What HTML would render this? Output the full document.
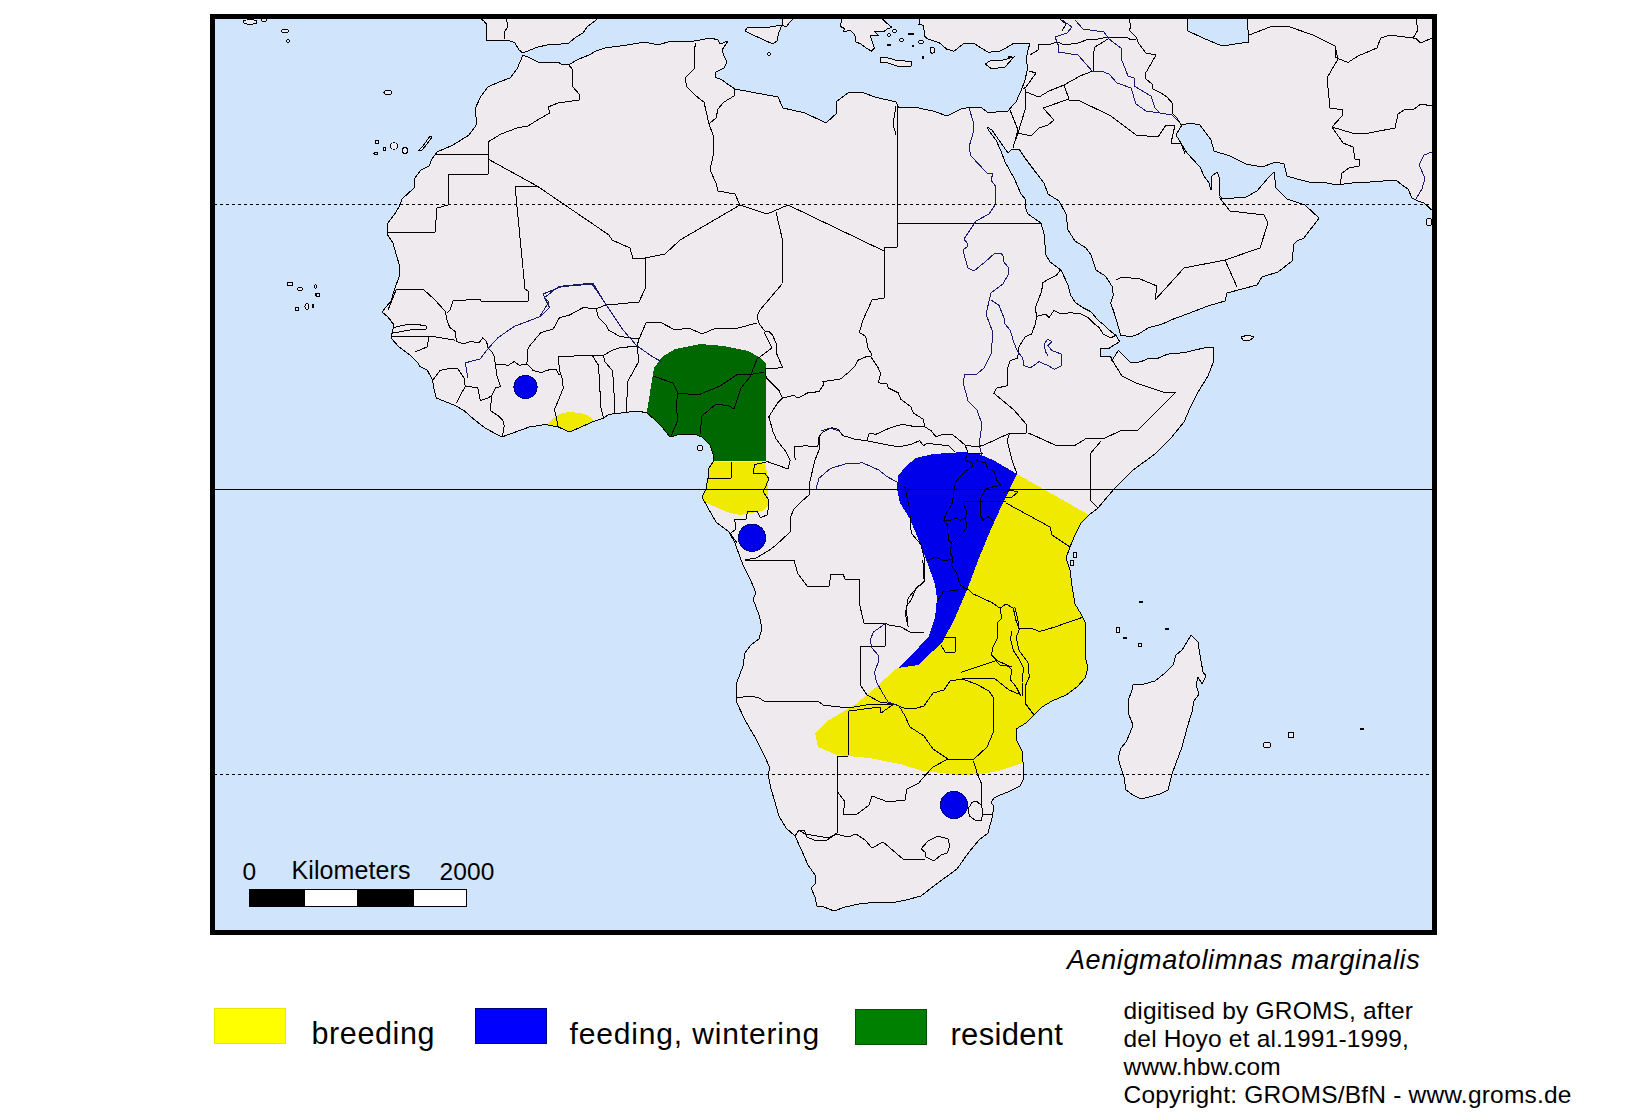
<!DOCTYPE html>
<html><head><meta charset="utf-8"><style>
html,body{margin:0;padding:0;background:#fff;width:1644px;height:1114px;overflow:hidden}
svg{display:block}
text{font-family:"Liberation Sans",sans-serif}
</style></head><body>
<svg width="1644" height="1114" viewBox="0 0 1644 1114"><g shape-rendering="crispEdges">
<rect x="215" y="19" width="1217" height="911" fill="#eeeaee"/>
<path d="M647 411 L654 368 L662 357 L675 349 L700 344 L724 346 L748 351 L759 357 L766 363 L766 461 L700 461 L640 440 Z" fill="#006800" stroke="none" stroke-width="1" />
<path d="M700 462 L765 462 L768 478 L768 505 L762 511 L740 515 L727 512 L700 500 Z" fill="#f0ea00" stroke="none" stroke-width="1" />
<path d="M546 440 L548 424 L554 417 L562 413 L570 412 L580 413 L587 415 L593 419 L598 440 Z" fill="#f0ea00" stroke="none" stroke-width="1" />
<path d="M1017 474 L1089 515 L1120 515 L1120 700 L1040 775 L1022 763 L1002 770 L983 774 L959 775 L923 771 L900 764 L869 758 L837 755 L818 747 L815 733 L829 720 L856 704 L875 688 L896 669 L898 668 L918 665 L933 651 L943 641 L955 618 L967 590 L979 558 L991 529 L1002 505 Z" fill="#f0ea00" stroke="none" stroke-width="1" />
<path d="M897 489 L898 476 L906 466 L916 458 L933 454 L963 452 L979 454 L993 460 L1017 474 L1002 505 L991 529 L979 558 L967 590 L955 618 L943 641 L933 651 L918 665 L898 668 L906 660 L919 647 L929 636 L935 618 L937 598 L935 584 L927 562 L919 541 L910 519 L900 503 Z" fill="#0000ea" stroke="none" stroke-width="1" />
<g fill="none" stroke="#000" stroke-width="1" stroke-linejoin="round">
<path d="M436 154 L488 154 L488 174 L448 174 L448 205 L437 208 L435 232 L388 232"/>
<path d="M488 142 L488 159"/>
<path d="M488 159 L537 186 L609 235 L612 240 L630 248 L633 259 L645 258 L665 254 L680 240 L740 205"/>
<path d="M537 186 L515 186 L525 289 L528 291 L528 301 L481 301 L480 299 L453 301 L450 310 L447 313"/>
<path d="M488 142 L501 134 L517 128 L528 126 L539 119 L550 113 L548 107 L558 103 L579 100 L579 94 L573 87 L572 69 L569 65"/>
<path d="M506 17 L508 27 L504 32 L504 39"/>
<path d="M696 43 L694 50 L694 69 L685 78 L687 87 L696 96 L704 102 L709 124"/>
<path d="M734 88 L734 96 L724 102 L718 109 L716 118 L709 124 L713 135 L713 156 L710 170 L716 183 L718 191 L735 194 L740 205 L767 214 L788 205 L884 251 L884 248 L897 247 L897 106"/>
<path d="M896 106 L893 124 L896 135"/>
<path d="M897 223 L1041 223"/>
<path d="M645 258 L645 289 L639 302 L620 303.8 L606 305 L596 308.8 L583.4 307.5 L569.6 315 L559.5 317.6 L553.3 328.9 L540.7 332.7 L528.1 347.8 L526.9 364"/>
<path d="M388 310 L396 290 L415 289 L423 289 L434 299 L445 311 L447.7 322.6 L450 327.7 L455 331.4 L456.5 341.5 L464 344 L470 341.5 L479 342.7 L482.9 337.7 L486.6 341.5 L487.9 347.8 L491.7 351.5 L494.2 356.6 L495.4 364 L500.5 364 L508 365.4 L514.3 361.6 L519.3 365.4 L526.9 364 L533.1 370.4 L542 372.9 L545.7 370.4 L555.8 369 L559.5 375.4"/>
<path d="M391 336 L420 336.5 L436.3 337 L455.2 340.2"/>
<path d="M432.6 380.5 L440 370.4 L449 368.5 L457.7 368.5 L464 378 L465.3 386.7 L461.5 393 L456.5 403"/>
<path d="M465.3 386.7 L470.3 386.7 L477.8 388 L480.3 400.6 L487.9 398 L491.7 395.5 L495.4 388 L500.5 386.7 L496.7 375.4 L495.4 364"/>
<path d="M491.7 395.5 L490.4 410.6 L498 415.7 L503 420.7 L504.2 425.7 L502.3 437"/>
<path d="M558.3 356.6 L559.5 370.4 L562 378 L563.3 388 L558.3 400.6 L554.5 409.4 L557 420.7 L558.3 427"/>
<path d="M558.3 356.6 L592.2 355.3 L603.5 355.3 L612.3 350.3 L620 347.8 L637 346"/>
<path d="M596 308.8 L598.5 317.6 L606 325 L608.5 330 L620 336.5 L639 339"/>
<path d="M592.2 355.3 L598.5 365.4 L599.8 388 L601 408.1 L603.5 418.2"/>
<path d="M603.5 355.3 L604.8 361.6 L612.3 370.4 L613.6 383 L614.8 413.1"/>
<path d="M776 212 L783 242 L782 284 L760 310 L757 316 L759 323 L760 325"/>
<path d="M760 325 L765 331.3 L768.8 331.3 L772.6 335 L776.3 343.9 L776.3 352.7 L780 361.5 L782.6 367.7 L765 369 L766.3 377.8 L772.6 384.1 L778.9 390.4 L782.6 398"/>
<path d="M782.6 398 L794 395.4 L797.7 398 L807.8 392.9 L819 391.6 L824.1 384 L822.9 381.6 L840.5 379 L848 372.8 L855.5 365.3 L858 360.2 L866.8 356.5 L870.6 356.5"/>
<path d="M863 320 L859.3 332.6 L865.6 336.3 L868.1 348.9 L871.9 353.9 L870.6 356.5 L878.2 367.7 L880.7 374 L878.2 382.8 L887 384 L888.2 387.9 L898.3 392.9 L900.8 399.2 L910.8 406.7 L913.4 413 L923.4 419.3 L924.7 426.8"/>
<path d="M866.8 440.7 L884.5 444.4 L899.3 446.9 L910.8 444.4 L919.6 440.7 L923.4 445.7 L927.2 443.2 L936 444.4 L948.6 445.7 L954.8 452"/>
<path d="M782.6 398 L777.6 403 L768.8 416.8 L770 420.6 L772.6 430.6 L776.3 439.4 L785.1 450.7 L790.2 460"/>
<path d="M639 339 L637 346 L639 361 L628 381 L626 413"/>
<path d="M639 339 L646 323 L660 322 L675 330 L689 328 L702 334 L716 328 L738 328 L757 323"/>
<path d="M790.2 460 L788 469 L767.6 461.7 L754.7 464.5 L753.2 473.1 L764.7 473.1 L769 478.9 L763.3 491.8 L769 500.4 L767.6 514.8 L760.4 517.7 L757.6 511.9 L747.5 511.9 L746 519.1 L734.6 519.1 L736 529.2 L730.3 533.5 L737.4 543.5"/>
<path d="M884 251 L884 298 L872 300 L863 320"/>
<path d="M429 337 L427 347 L415 352"/>
<path d="M391 328 L405 325 L415 324 L426 326 L426 329 L410 330 L399 332 L391 333"/>
<path d="M653 376 L673 383 L678 393 L676 406 L678 420 L671 436"/>
<path d="M678 393 L698 395 L720 386 L738 374 L748 375 L764 372"/>
<path d="M700 434 L702 416 L716 404 L729 406 L734 409 L741 388 L750 377 L757 359 L772 348 L764 332"/>
<path d="M731 462 L731 478 L708 478"/>
<path d="M795.2 460 L794 447 L805.3 445.7 L817.8 447 L819 436.9 L822.9 431.9 L831.7 427.5 L838 429.4 L843 435.6 L855.5 439.4 L866.8 440.7 L869.4 433.1 L875.7 434.4 L889.5 428.1 L902 424.3 L915.9 426.8 L924.7 426.8 L931 430.6 L936 436.9 L942.3 434.4 L952.3 434.4 L960 440.7 L965 445 L977 447 L984 445 L1010 433 L1026 433 L1026 424 L1014 410 L993.8 393.2 L996.3 388.2 L1007.7 385.6 L1007.7 368 L1010.2 360.5 L1017.7 358 L1019 346.7 L1025.3 336.6 L1031.5 334.1 L1035.3 324 L1036.6 316.5 L1035.3 307.7 L1041.6 291.4 L1042.9 282.6 L1049.1 278.8 L1056.7 275 L1060.4 270"/>
<path d="M1036.6 316.5 L1045.4 314 L1049 317.7 L1054 310.2 L1060.4 314 L1070.5 312.7 L1080.6 314 L1088.1 317.7 L1093.1 322.8 L1099.4 327.8 L1103.2 334.1 L1110.7 337.9 L1115.8 335.4"/>
<path d="M1010 433 L1007 440 L1012 460 L1017 474"/>
<path d="M1028 433 L1033 435 L1055 445 L1074 446 L1087 438 L1103 439 L1122 430 L1138 430 L1176 392 L1163 392 L1136 383 L1122 376 L1112 360"/>
<path d="M1101 441 L1090 454 L1090 500 L1098 508"/>
<path d="M1006 503 L1050 527 L1052 535 L1070 547"/>
<path d="M819 436 L819 450 L815 460 L810 481 L809 495 L801 502 L794 509 L790 518 L790 532 L775 546 L768 551 L756 558 L745 560"/>
<path d="M745 560 L794 560 L798 574 L808 587 L829 586 L831 574 L843 574 L845 579 L859 579 L859 602 L864 623 L885 623 L889 625 L901 627 L910 632 L924 632"/>
<path d="M885 623 L885 646 L860 646 L861 686"/>
<path d="M904.7 486.3 L909.6 508.9 L911.2 533.1 L920.9 544.4 L924.1 557.4 L924.1 581.6 L916 588 L911.2 600 L906 607 L908 625"/>
<path d="M965 445 L968 452.5 L965 460 L971.7 462.6 L973 466 L965.4 471.4 L960.4 476.4 L955.4 482.7 L954 490 L952.8 500.3 L951.6 505.3 L947.8 510.4 L945.3 515.4 L944 520.4 L947.8 525.4 L947.8 533 L949 540.5 L951.6 543 L950.3 553 L952.8 558 L951.6 565.6 L956.6 573 L960.4 585 L968 590"/>
<path d="M978 455 L976.7 461 L985.5 462.6 L988 469 L994.3 471.4 L996.8 480.2 L1000.6 485.2 L994.3 486.5 L985.5 489 L980.5 499 L980.5 515.4 L983 520.4 L988 516.6 L993 520.4"/>
<path d="M963 501 L1006 501"/>
<path d="M963 502.8 L966.7 511.6 L965.4 518 L960.4 520.4 L956.6 518 L950.3 520.4 L944 520.4"/>
<path d="M965.4 518 L966.7 526.7 L963 533 L957.9 538 L952.8 543"/>
<path d="M927.7 560.6 L935 556.9 L944 560.6 L951.6 559.4"/>
<path d="M1003 493 L1010 490 L1018 492 L1012 497 L1005 498"/>
<path d="M937.4 600.9 L943.2 592 L962.2 589.2 L968 587.7"/>
<path d="M922.8 560 L924.2 581.9 L915.5 589.2 L908.2 598 L905.3 614 L908.2 627.2"/>
<path d="M964 453 L983 453"/>
<path d="M968 589.2 L972.4 593.6 L991.4 602.3 L1000.1 608.2 L1006 603.8 L1013.3 608.2 L1016.2 621.3 L1019.1 628.6 L1032.3 628.6 L1039.6 631.5 L1054.2 627.2 L1083.4 617"/>
<path d="M1000.1 608.2 L1001.6 618.4 L997.2 622.8 L997.2 638.8 L992.8 647.6 L991.4 654.9 L997.2 660.7 L1007.4 665.1 L1011.8 669.5 L1010.4 679.7 L1016.2 687 L1020.6 695.8"/>
<path d="M1011.8 631.5 L1010.4 638.8 L1013.3 650.5 L1019.1 659.3 L1023.5 668 L1022 682.6 L1022 695.8"/>
<path d="M1014.7 606.7 L1017.7 618.4 L1019.1 630 L1016.2 637.4 L1019.1 650.5 L1027.9 662.2 L1029.3 676.8 L1025 687 L1025 703 L1034 715"/>
<path d="M960.7 672.4 L995.8 660.7 L1000.1 665.1 L1011.8 666.6"/>
<path d="M941 637 L955 637 L955 652 L945 652 L941 645"/>
<path d="M736 698 L751 696 L759 698 L764 701 L818 701 L823 705 L848 708 L872 704 L894 704"/>
<path d="M861 686 L867 695 L880 702 L894 704 L906 709 L917 708 L924 706 L933 693 L944 690 L950 681 L962 679 L994 678 L1009 690 L1021 695"/>
<path d="M849 711 L880 707 L881 713 L894 704"/>
<path d="M849 711 L848 756 L837 756 L837 833"/>
<path d="M837 833 L829 838 L805 834 L799 830 L795 836"/>
<path d="M837 791 L845 802 L843 814 L856 815 L869 805 L872 796 L888 802 L905 800 L907 789 L919 783 L921 780 L933 767 L948 759"/>
<path d="M899 706 L905 716 L910 727 L924 736 L933 749 L948 759 L973 760"/>
<path d="M973 760 L987 747 L993 733 L993 697 L989 691 L976 684 L962 679"/>
<path d="M973.4 760.7 L977.5 774.2 L981.5 783.6 L981.5 803.8 L982.8 814.6 L992.3 814.6"/>
<path d="M795 836 L799 830 L804 830 L807 837 L814 840 L827 840 L836 834 L848 837 L856 834 L865 840 L872 848 L883 842 L903 859 L909 860 L925 859"/>
<path d="M921 849 L928 841 L938 836 L948 839 L950 846 L947 853 L941 855 L934 861 L926 857 L925 852 L921 849"/>
<path d="M968 809 L972 802.4 L976.2 801.1 L981.5 805.2 L982.8 811.9 L981.5 820 L974.8 820 L969.3 816 L968 809"/>
<path d="M1030 55 L1038 50 L1039 44 L1051 44 L1057 42 L1065 45 L1078 43 L1089 39 L1098 39 L1108 37 L1113 37 L1128 38 L1131 40 L1136 39"/>
<path d="M1108 39 L1095 47 L1093 55 L1093 71 L1080 76 L1064 85 L1049 91 L1039 97 L1026 92"/>
<path d="M1064 85 L1069 99 L1043 108 L1054 120 L1048 125 L1039 128 L1031 136 L1018 133 L1013 147"/>
<path d="M1069 100 L1080 101 L1111 116 L1136 135 L1158 137 L1166 125 L1175 125 L1171 143 L1181 143 L1185 154"/>
<path d="M1129 19 L1131 27 L1129 30 L1136 37 L1139 44 L1146 53 L1156 55 L1152 62 L1148 69 L1145 74 L1146 79 L1152 84 L1153 89 L1161 93 L1167 97 L1173 104 L1172 113 L1177 118 L1181 125"/>
<path d="M1029 71 L1036 73 L1026 87 L1023 89"/>
<path d="M1025 89 L1025 110 L1018 133"/>
<path d="M1010 110 L1018 130 L1013 148"/>
<path d="M1155 300 L1184 268 L1225 260 L1260 248 L1268 223 L1264 215 L1230 211 L1219 197"/>
<path d="M1225 260 L1237 287"/>
<path d="M1116 280 L1122 277 L1140 279 L1157 286 L1155 300"/>
<path d="M1249 35 L1270 27 L1287 26 L1313 35 L1335 46 L1338 59 L1327 78 L1330 108 L1343 110 L1342 116 L1332 127 L1343 143 L1353 147 L1355 159 L1360 160 L1359 166 L1349 168 L1342 173 L1340 185"/>
<path d="M1332 127 L1352 133 L1369 133 L1395 128 L1398 114 L1404 110 L1414 109 L1421 104 L1432 106"/>
<path d="M1335 46 L1336 57.7 L1348 62.5 L1358 56 L1377 48 L1380.5 38.3 L1390 35 L1401.4 36.6 L1415.9 38.3 L1420.7 43 L1432 38"/>
<path d="M1416 19 L1418 30 L1413 38"/>
<path d="M1060 19 L1066 24 L1062 31"/>
</g>
<g fill="none" stroke="#1a1a6a" stroke-width="1" stroke-linejoin="round">
<path d="M969 108 L973 121 L974 130 L969 147 L971 156 L987 173 L993 173 L991 180 L996 187 L995 205 L989 214 L976 221 L964 239 L967 243 L967 247 L963 250 L965 258 L968 268 L974 271 L985 262 L995 253 L1001 253 L1003 256 L1003 261 L1008 267 L1008 275 L1003 284 L991 293 L986 314 L993 333 L991 354 L984 368 L977 374 L965 374 L963 382 L968 401 L977 410 L982 424 L979 445 L982 455"/>
<path d="M991.3 300.2 L998.9 305.2 L1003.9 317.7 L1005.1 324 L1010.2 330.3 L1014 342.9 L1017.7 351.7 L1022.7 358 L1024 365.5 L1030.3 368 L1039 361.7 L1047.9 365.5 L1054.2 369.3 L1061.7 365.5 L1061.7 354.2 L1051.7 350.4 L1047.9 345.4 L1051.7 341.6 L1047.9 339.1 L1044.1 344.1 L1045.4 351.7 L1047.9 355.5"/>
<path d="M540 316 L549 302 L544 298 L558 287 L592 284 L605 303 L623 330 L637 346 L653 357 L662 362"/>
<path d="M467.8 378 L466.5 370 L465.3 362.8 L480.3 359 L486.6 350.3 L498 337.7 L514.3 326.4 L524.3 322.6 L540.7 316.3 L549.5 307.5 L545.7 300 L543 294 L563 286 L593 283 L606 305"/>
<path d="M821 431 L830 428 L839 431"/>
<path d="M815.9 489.5 L819 478.2 L830.4 468.5 L845 464 L862.7 462.8 L878.9 470.1 L887 476.6 L904.7 486.3"/>
<path d="M886 623 L873.6 632 L870 640 L872 648 L878 655 L878 663 L874.5 672 L876.5 682 L882 692 L888 702 L899 706"/>
<path d="M1062 20 L1072 27 L1067 33 L1055 37 L1057 42 L1059 47 L1058 52 L1078 55 L1093 72 L1101 71 L1109 74 L1117 83 L1131 88 L1136 104 L1146 111 L1160 113 L1172 115 L1182 125"/>
<path d="M1075 20 L1083 29 L1104 32 L1109 39 L1121 48 L1121 58 L1128 76 L1134 78 L1134 86 L1151 96 L1155 108 L1160 113"/>
<path d="M1432 152 L1424 155 L1419 165 L1425 178 L1422 189 L1416 199"/>
</g>
<path d="M213 17 L478 17 L484 21 L487 25 L486 32 L486 40 L497 41 L508 40 L515 43 L519 50 L523 53 L530 50 L538 47 L547 45 L561 44 L569 43 L576 37 L583 33 L587 27 L596 20 L598 17 L783 17 L782 25 L786 27 L790 22 L795 17 L842.4 17 L840.3 26.4 L844.5 28.5 L843.4 31.6 L850.7 30.5 L854.8 34.7 L855.9 41.9 L861 44 L866.2 48.1 L871.4 51.2 L874.5 48.1 L872.4 41.9 L870.3 35.7 L878.6 35.7 L874.5 31.6 L883.8 31.6 L887.9 28.5 L892 27.4 L885.8 22.3 L880.7 17 L918.9 17 L920 22.3 L918.9 24.3 L923.1 25.4 L924.1 30.5 L924.1 35.7 L927.2 38.8 L933.4 40.9 L939.6 43 L946.9 49.2 L954 51.2 L964.4 43 L974.8 44 L988.2 52.3 L1000 51.2 L1006 48 L1014 43 L1030 43 L1028 50 L1026 60 L1028 67 L1025 80 L1021 91 L1019 95 L1016 102 L1014 104 L1008 111 L996 112 L987 112 L982 108 L971 107 L961 109 L947 116 L933 111 L923 109 L915 107 L899 108 L896 102 L875 97 L861 92 L848 93 L836 102 L837 113 L826 123 L805 113 L783 108 L778 97 L751 92 L735 89 L729 85 L722 80 L715 77 L716 72 L724 68 L727 62 L724 56 L722 50 L728 41 L720 44 L718 40 L711 38 L700 40 L689 42 L671 41 L658 45 L645 42 L627 45 L605 48 L596 51 L589 55 L579 59 L570 64 L561 64 L558 62 L548 63 L538 62 L530 58 L523 55 L517 69 L510 78 L499 82 L488 87 L481 96 L475 109 L477 124 L469 135 L453 145 L437 152 L432 159 L429 166 L421 170 L415 178 L414 188 L402 199 L399 207 L394 215 L388 223 L387 234 L393 243 L396 254 L400 267 L399 277 L394 291 L391 301 L382 312 L388 317 L394 325 L391 338 L399 347 L410 355 L418 363 L420 366.6 L427.5 370.4 L432.6 380.5 L433.8 388 L436.3 398 L455.2 405.6 L464 410.6 L474 419.4 L485.4 428.2 L501.7 437 L515.5 432 L529.4 427 L545.7 424.5 L558.3 427 L569.6 432 L581 427 L592.2 422 L603.5 418.2 L608.5 414.4 L620 413.1 L638 411 L647 413 L654 419 L662 427 L670 437 L681 434 L694 434 L702 437 L710 445 L713 454 L713 462 L709 468 L708 478 L706 489 L702 497 L708 508 L716 522 L729 532 L735 543 L740 557 L743 565 L751 581 L756 593 L753 599 L759 615 L762 628 L759 639 L751 645 L745 653 L743 666 L737 682 L736 701 L745 720 L756 739 L764 755 L770 768 L768 774 L771 789 L775 802 L779 816 L786 828 L795 836 L801 849 L808 865 L815 875 L815 884 L811 888 L815 897 L817 906 L824 907 L834 911 L845 907 L859 904 L877 902 L891 903 L906 900 L921 896 L935 885 L957 869 L969 852 L979 840 L988 833 L992 818 L994 806 L991 803 L994 798 L1000 795 L1008 792 L1020 786 L1024 778 L1023 762 L1022 751 L1016 739 L1016 729 L1026 723 L1034 715 L1042 707 L1052 701 L1066 695 L1077 687 L1085 678 L1088 668 L1086 660 L1085 640 L1085 622 L1081 614 L1075 604 L1072 586 L1070 570 L1066 558 L1070 547 L1075 535 L1081 523 L1089 515 L1098 508 L1114 489 L1133 470 L1155 454 L1171 438 L1184 422 L1190 408 L1198 392 L1208 376 L1213 363 L1214 347 L1208 347 L1187 352 L1180 353 L1167.3 354.2 L1158.5 358 L1149.7 358 L1140.9 361.7 L1130.8 363 L1118.3 350.4 L1112 360.5 L1110.7 356.7 L1100.7 356.7 L1100.7 348 L1109.5 348 L1119.6 341.6 L1115.8 335.3 L1109.5 330.3 L1104.5 325.3 L1098.2 320.3 L1090.6 311.5 L1083 307.7 L1075.5 302.7 L1070.5 295 L1068 285 L1061 270 L1050 262 L1046 255 L1044 234 L1041 223 L1028 214 L1025 207 L1026 200 L1021 194 L1014 178 L1005 162 L1001 151 L996 140 L989 131 L987 127 L992 130 L1001 143 L1008 153 L1012 149 L1019 149 L1025 158 L1037 174 L1044 183 L1048 194 L1059 201 L1066 214 L1068 230 L1075 241 L1086 248 L1091 255 L1096 270 L1105.7 276.3 L1112 286.3 L1113.3 295.1 L1110.7 302.7 L1114.5 314 L1118.3 326.6 L1120.8 335.4 L1130.8 336.6 L1138.4 334.1 L1148.5 327.8 L1162.3 324 L1173.6 319 L1187 314 L1208 306 L1225 301 L1227 293 L1257 285 L1262 277 L1278 272 L1292 261 L1294 244 L1297 241 L1304 238 L1309 231 L1314 225 L1319 218 L1305 205 L1287 199 L1276 188 L1274 172 L1268 178 L1257 191 L1246 197 L1222 199 L1219 194 L1220 179 L1217 172 L1212 176 L1211 190 L1209 183 L1204 176 L1200 167 L1187 153 L1176 135 L1182 125 L1190 123 L1200 125 L1211 140 L1214 151 L1230 156 L1246 164 L1262 167 L1276 162 L1284 164 L1287 176 L1297 179 L1309 182 L1327 183 L1337 185 L1352 183 L1370 182 L1396 180 L1402 185 L1408 189 L1412 198 L1418 201 L1424 203 L1434 212 L1434 932 L213 932 L213 17 Z" fill="#d0e5fc" stroke="#000" stroke-width="1" stroke-linejoin="round"/>
<path d="M1187 17 L1188 31 L1203 38 L1222 46 L1249 42 L1247 17 Z" fill="#d0e5fc" stroke="#000" stroke-width="1" />
<path d="M745 31 L747 28 L755 27 L764 28 L776 26 L782 25 L779 32 L777 41 L773 44 L764 40 L751 34 Z" fill="#eeeaee" stroke="#000" stroke-width="1" />
<path d="M880 58 L885 57 L895 60 L905 61 L912 62 L911 66 L897 66 L888 63 L880 62 Z" fill="#eeeaee" stroke="#000" stroke-width="1" />
<path d="M985 64 L990 61 L1003 60 L1014 57 L1005 67 L992 69 Z" fill="#eeeaee" stroke="#000" stroke-width="1" />
<path d="M1191 635 L1198 642 L1200 655 L1203 672 L1206 676 L1202 684 L1198 677 L1196 685 L1199 694 L1194 701 L1192 712 L1187 728 L1182 747 L1176 763 L1172 774 L1168 790 L1160 794 L1149 797 L1141 799 L1133 795 L1126 790 L1124 777 L1121 768 L1118 758 L1121 748 L1126 742 L1130 733 L1133 725 L1129 715 L1128 701 L1132 690 L1133 685 L1144 684 L1155 681 L1165 673 L1173 665 L1176 655 L1182 650 L1187 642 Z" fill="#eeeaee" stroke="#000" stroke-width="1" />
<path d="M1241 337 L1248 335 L1254 337 L1249 341 L1243 340 Z" fill="#eeeaee" stroke="#000" stroke-width="1" />
<path d="M419 150 L423 146 L430 136 L432 137 L427 144 L422 150 Z" fill="#eeeaee" stroke="#000" stroke-width="1" />
<ellipse cx="250" cy="22" rx="7" ry="2.2" fill="#eeeaee" stroke="#000" stroke-width="1"/>
<ellipse cx="264" cy="20" rx="2.5" ry="1.5" fill="#eeeaee" stroke="#000" stroke-width="1"/>
<ellipse cx="285" cy="31" rx="4" ry="1.5" fill="#eeeaee" stroke="#000" stroke-width="1"/>
<ellipse cx="288" cy="41" rx="1.5" ry="1.2" fill="#eeeaee" stroke="#000" stroke-width="1"/>
<ellipse cx="388" cy="92.5" rx="4" ry="2" fill="#eeeaee" stroke="#000" stroke-width="1"/>
<ellipse cx="376" cy="153.5" rx="2" ry="1.2" fill="#eeeaee" stroke="#000" stroke-width="1"/>
<ellipse cx="377" cy="142" rx="1.5" ry="2" fill="#eeeaee" stroke="#000" stroke-width="1"/>
<ellipse cx="384.5" cy="149" rx="1.5" ry="1.5" fill="#eeeaee" stroke="#000" stroke-width="1"/>
<ellipse cx="394" cy="146" rx="4" ry="3.2" fill="#eeeaee" stroke="#000" stroke-width="1"/>
<ellipse cx="405" cy="150.5" rx="2.8" ry="2.8" fill="#eeeaee" stroke="#000" stroke-width="1"/>
<ellipse cx="290" cy="284" rx="3" ry="2" fill="#eeeaee" stroke="#000" stroke-width="1"/>
<ellipse cx="300" cy="289" rx="2.5" ry="1.5" fill="#eeeaee" stroke="#000" stroke-width="1"/>
<ellipse cx="315.5" cy="286.5" rx="1" ry="2" fill="#eeeaee" stroke="#000" stroke-width="1"/>
<ellipse cx="317.5" cy="294.5" rx="2" ry="1.5" fill="#eeeaee" stroke="#000" stroke-width="1"/>
<ellipse cx="297" cy="309" rx="2" ry="2" fill="#eeeaee" stroke="#000" stroke-width="1"/>
<ellipse cx="307" cy="306.5" rx="2" ry="3" fill="#eeeaee" stroke="#000" stroke-width="1"/>
<ellipse cx="313" cy="306" rx="1" ry="1.5" fill="#eeeaee" stroke="#000" stroke-width="1"/>
<ellipse cx="318" cy="295" rx="2" ry="1.5" fill="#eeeaee" stroke="#000" stroke-width="1"/>
<ellipse cx="700" cy="448" rx="2.5" ry="3" fill="#eeeaee" stroke="#000" stroke-width="1"/>
<ellipse cx="1075" cy="555" rx="1.5" ry="3" fill="#eeeaee" stroke="#000" stroke-width="1"/>
<ellipse cx="1072" cy="563" rx="2" ry="3" fill="#eeeaee" stroke="#000" stroke-width="1"/>
<ellipse cx="1141" cy="602" rx="1.5" ry="1" fill="#eeeaee" stroke="#000" stroke-width="1"/>
<ellipse cx="1118" cy="630" rx="2" ry="3" fill="#eeeaee" stroke="#000" stroke-width="1"/>
<ellipse cx="1125" cy="638" rx="2" ry="1" fill="#eeeaee" stroke="#000" stroke-width="1"/>
<ellipse cx="1140" cy="645" rx="1.5" ry="2" fill="#eeeaee" stroke="#000" stroke-width="1"/>
<ellipse cx="1167" cy="629" rx="1.5" ry="1" fill="#eeeaee" stroke="#000" stroke-width="1"/>
<ellipse cx="1267" cy="745" rx="3.5" ry="3" fill="#eeeaee" stroke="#000" stroke-width="1"/>
<ellipse cx="1291" cy="735" rx="3" ry="3" fill="#eeeaee" stroke="#000" stroke-width="1"/>
<ellipse cx="1362" cy="729" rx="1.5" ry="1" fill="#eeeaee" stroke="#000" stroke-width="1"/>
<ellipse cx="769" cy="54" rx="2" ry="1.2" fill="#eeeaee" stroke="#000" stroke-width="1"/>
<ellipse cx="889" cy="35" rx="1.2" ry="2" fill="#eeeaee" stroke="#000" stroke-width="1"/>
<ellipse cx="894.5" cy="31" rx="2" ry="1.5" fill="#eeeaee" stroke="#000" stroke-width="1"/>
<ellipse cx="901.4" cy="40" rx="1.8" ry="2" fill="#eeeaee" stroke="#000" stroke-width="1"/>
<ellipse cx="889" cy="45" rx="2" ry="0.8" fill="#eeeaee" stroke="#000" stroke-width="1"/>
<ellipse cx="912.7" cy="46" rx="0.8" ry="0.8" fill="#eeeaee" stroke="#000" stroke-width="1"/>
<ellipse cx="910.7" cy="34" rx="2.5" ry="1" fill="#eeeaee" stroke="#000" stroke-width="1"/>
<ellipse cx="921" cy="42" rx="2.5" ry="1.2" fill="#eeeaee" stroke="#000" stroke-width="1"/>
<ellipse cx="932.4" cy="50.2" rx="2.2" ry="3" fill="#eeeaee" stroke="#000" stroke-width="1"/>
<ellipse cx="923" cy="57.4" rx="1" ry="1.5" fill="#eeeaee" stroke="#000" stroke-width="1"/>
<ellipse cx="1010" cy="57" rx="2" ry="1" fill="#eeeaee" stroke="#000" stroke-width="1"/>
<ellipse cx="1429" cy="222" rx="2.5" ry="4" fill="#eeeaee" stroke="#000" stroke-width="1"/>
<circle cx="525.5" cy="387" r="11.6" fill="#0000ea" stroke="#00007a" stroke-width="1"/>
<circle cx="752" cy="537.7" r="13.6" fill="#0000ea" stroke="#00007a" stroke-width="1"/>
<circle cx="954" cy="805" r="13.6" fill="#0000ea" stroke="#00007a" stroke-width="1"/>
<line x1="214" y1="204.5" x2="1432" y2="204.5" stroke="#000" stroke-width="1" stroke-dasharray="3,3"/>
<line x1="214" y1="489.5" x2="1432" y2="489.5" stroke="#000" stroke-width="1"/>
<line x1="214" y1="774.5" x2="1432" y2="774.5" stroke="#000" stroke-width="1" stroke-dasharray="3,3"/>
<rect x="210" y="14" width="1227" height="5" fill="#000"/><rect x="210" y="930" width="1227" height="5" fill="#000"/><rect x="210" y="14" width="5" height="921" fill="#000"/><rect x="1432" y="14" width="5" height="921" fill="#000"/>
<rect x="249.5" y="889.5" width="217" height="17" fill="#fff" stroke="#000" stroke-width="1"/>
<rect x="249" y="889" width="56" height="18" fill="#000"/>
<rect x="357" y="889" width="57" height="18" fill="#000"/>
<text x="242.5" y="879.6"  font-size="24.5" letter-spacing="0">0</text>
<text x="291.5" y="878.5"  font-size="25" letter-spacing="0.1">Kilometers</text>
<text x="439.5" y="879.6"  font-size="24.5" letter-spacing="0.1">2000</text>
<rect x="214.5" y="1008.5" width="71" height="35" fill="#ffff00" stroke="#e8e800" stroke-width="1"/>
<rect x="475.5" y="1008.5" width="71" height="35" fill="#0000ff" stroke="#000080" stroke-width="1"/>
<rect x="855.5" y="1009.5" width="71" height="35" fill="#008000" stroke="#0a4a0a" stroke-width="1"/>
<text x="311.5" y="1044"  font-size="30.5" letter-spacing="0.6">breeding</text>
<text x="569.5" y="1044"  font-size="30" letter-spacing="0.85">feeding, wintering</text>
<text x="950.5" y="1044.8"  font-size="31" letter-spacing="0.3">resident</text>
<text x="1067" y="969.3"  font-size="27" letter-spacing="0.6" font-style="italic">Aenigmatolimnas marginalis</text>
<text x="1123.5" y="1018.7"  font-size="24.5" letter-spacing="0.2">digitised by GROMS, after</text>
<text x="1123.5" y="1046.7"  font-size="24.5" letter-spacing="0.2">del Hoyo et al.1991-1999,</text>
<text x="1123.5" y="1074.7"  font-size="24.5" letter-spacing="0.2">www.hbw.com</text>
<text x="1123.5" y="1102.7"  font-size="24.5" letter-spacing="0.2">Copyright: GROMS/BfN - www.groms.de</text>
</g></svg></body></html>
